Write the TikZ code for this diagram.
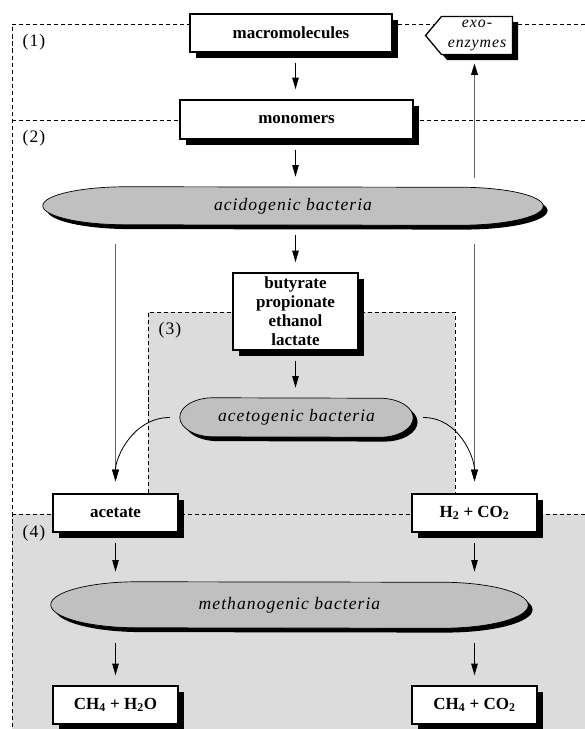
\documentclass[tikz,border=0pt]{standalone}
\usepackage{fontspec}
\setmainfont{Liberation Serif}
\newfontfamily\bactfont[LetterSpace=6]{Liberation Serif}
\newfontfamily\labfont[LetterSpace=6]{Liberation Serif}
\usetikzlibrary{
  arrows.meta,
  shapes.symbols,
  shadows
}
\definecolor{PillGray}{HTML}{C0C0C0}
\definecolor{ZoneGray}{HTML}{DCDCDC}
\definecolor{FeedGray}{HTML}{666666}
\pgfdeclarelayer{back}
\pgfsetlayers{back,main}

\begin{document}
\begin{tikzpicture}[
  >={Triangle[length=10pt,width=5.5pt]},
  box/.style={
    draw=black,
    fill=white,
    line width=1.1pt,
    minimum width=3.75cm,
    minimum height=1.14cm,
    inner sep=2pt,
    align=center,
    font=\fontsize{14.5}{16.2}\selectfont\bfseries,
    drop shadow={shadow xshift=0.17cm,shadow yshift=-0.17cm,fill=black,opacity=1}
  },
  exo/.style={box,signal,signal to=west,signal pointer angle=100,
    minimum width=2.61cm,font=\fontsize{13.5}{17}\bactfont\itshape},
  bact/.style={inner sep=0pt,font=\fontsize{15}{18}\bactfont\itshape},
  pill/.style n args={3}{insert path={
    ([xshift=#2]#1.north west) arc[start angle=90,end angle=270,x radius=#2,y radius=#3]
    -- ([xshift=-#2]#1.south east) arc[start angle=-90,end angle=90,x radius=#2,y radius=#3]
    -- cycle}},
  zone/.style={dash pattern=on 3.5pt off 2.5pt,line width=0.6pt},
  lab/.style={font=\fontsize{15}{18}\labfont},
  arrow/.style={->,line width=0.9pt,shorten <=0.3cm,shorten >=0.3cm},
  feed/.style={-{Triangle[length=10pt,width=5.5pt,black]},draw=FeedGray,line width=1.6pt},
  curl/.style={->,line width=0.7pt}
]
\useasboundingbox (0,0) rectangle (17.55,-21.87);

\begin{pgfonlayer}{back}
\fill[ZoneGray] (0.36,-15.42) rectangle (17.55,-21.87);
\fill[ZoneGray] (4.44,-9.36) rectangle (13.65,-15.42);
\draw[zone] (4.44,-15.42) |- (13.65,-9.36) -- (13.65,-15.42);
\draw[zone] (17.55,-0.72) -- (0.36,-0.72) -- (0.36,-21.87);
\draw[zone] (0.36,-3.6) -- (17.55,-3.6);
\draw[zone] (0.36,-15.42) -- (17.55,-15.42);
\end{pgfonlayer}

\node[lab] (one) at (1.02,-1.26) {(1)};
\node[lab] (two) at (1.02,-4.14) {(2)};
\node[lab] (three) at (5.10,-9.90) {(3)};
\node[lab] (four) at (1.02,-15.99) {(4)};

\node[box,minimum width=6.06cm] (macro) at (8.73,-0.99) {macromolecules};
\node[exo] (enz) at (14.31,-1.065) {exo-\\enzymes};
\node[box,minimum width=6.99cm,minimum height=1.17cm] (mono) at (8.895,-3.585) {monomers};
\node[bact,minimum width=15cm,minimum height=1.14cm] (acido) at (8.79,-6.18)
  {acidogenic bacteria};
\node[box,minimum height=2.31cm] (butyr) at (8.865,-9.345)
  {butyrate\\propionate\\ethanol\\lactate};
\node[bact,minimum width=6.99cm,minimum height=1.17cm] (aceto) at (8.895,-12.525)
  {acetogenic bacteria};
\node[box] (acetate) at (3.465,-15.39) {acetate};
\node[box] (h2co2) at (14.235,-15.39) {H\textsubscript{2} + CO\textsubscript{2}};
\node[bact,minimum width=14.31cm,minimum height=1.38cm] (methano) at (8.685,-18.15)
  {methanogenic bacteria};
\node[box] (ch4h2o) at (3.465,-21.15) {CH\textsubscript{4} + H\textsubscript{2}O};
\node[box] (ch4co2) at (14.235,-21.15) {CH\textsubscript{4} + CO\textsubscript{2}};

\begin{pgfonlayer}{back}
\foreach \n/\rx/\ry in {acido/2.5cm/0.57cm,aceto/1cm/0.585cm,methano/2.6cm/0.69cm}{
  \fill[black,transform canvas={shift={(0.13cm,-0.13cm)}},pill={\n}{\rx}{\ry}];
  \filldraw[fill=PillGray,draw=black,line width=0.6pt,pill={\n}{\rx}{\ry}];
}
\end{pgfonlayer}

\draw[feed,shorten <=0.57cm,shorten >=0.36cm] (acido.south -| acetate) -- (acetate.north);
\draw[feed,shorten <=0.57cm,shorten >=0.36cm] (acido.south -| h2co2) -- (h2co2.north);
\draw[feed,shorten <=0.27cm,shorten >=0.24cm] (acido.north -| h2co2) -- (enz.south -| h2co2);

\draw[arrow] (macro.south -| butyr) -- (mono.north -| butyr);
\draw[arrow] (mono.south -| butyr) -- (acido.north -| butyr);
\draw[arrow] (acido.south -| butyr) -- (butyr.north);
\draw[arrow] (butyr.south) -- (aceto.north -| butyr);
\draw[arrow] (acetate.south) -- (methano.north -| acetate);
\draw[arrow] (h2co2.south) -- (methano.north -| h2co2);
\draw[arrow,shorten <=0.45cm] (methano.south -| ch4h2o) -- (ch4h2o.north);
\draw[arrow,shorten <=0.45cm] (methano.south -| ch4co2) -- (ch4co2.north);

\draw[curl,shorten >=0.36cm] ([xshift=-0.3cm]aceto.west) to[out=180,in=90] (acetate.north);
\draw[curl,shorten >=0.36cm] ([xshift=0.3cm]aceto.east) to[out=0,in=90] (h2co2.north);
\end{tikzpicture}
\end{document}
